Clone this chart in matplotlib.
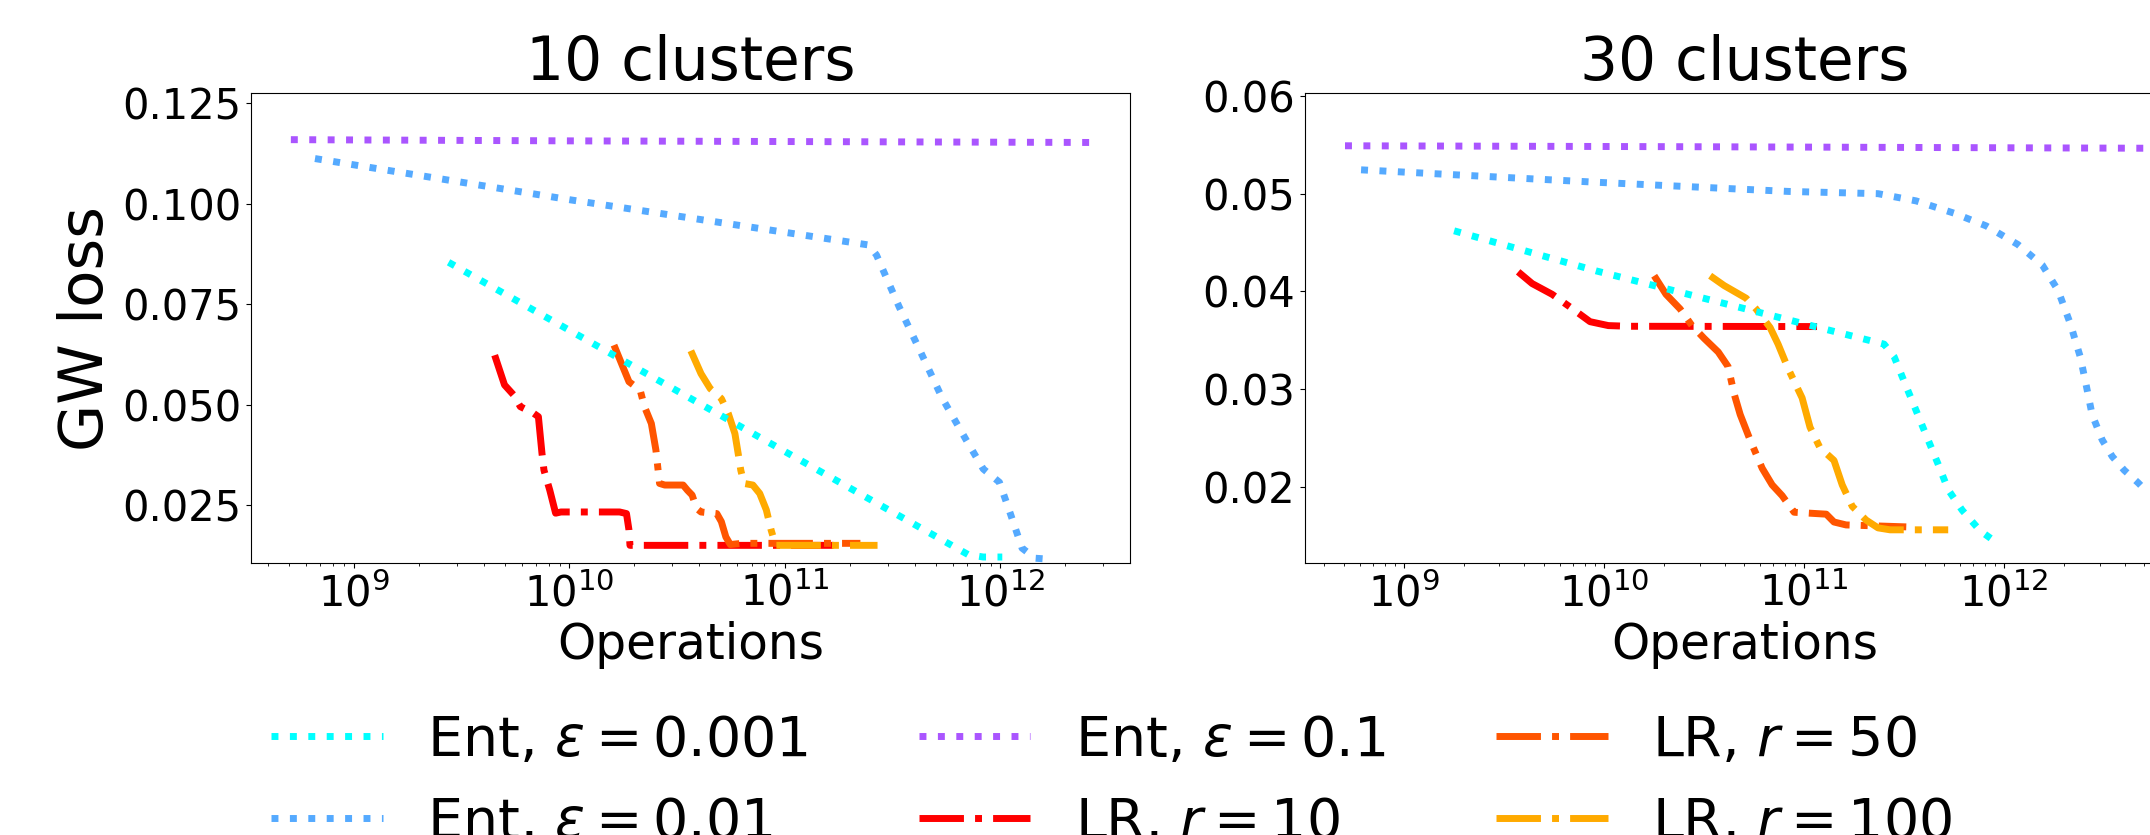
import numpy as np
import matplotlib
matplotlib.use('Agg')
import matplotlib.pyplot as plt

# ---- data: 10 clusters ----
ent001_ops_10 = [2.75e9, 7.08e11, 8.32e11, 1.02e12]
ent001_loss_10 = [0.0854, 0.0127, 0.0121, 0.0121]

ent01_ops_10 = [6.6e8, 1.02e10, 2.45e11, 2.66e11, 3.39e11, 4.27e11, 5.37e11, 6.92e11,
                8.32e11, 9.89e11, 1.11e12, 1.26e12, 1.45e12, 1.74e12]
ent01_loss_10 = [0.1112, 0.1009, 0.0897, 0.0872, 0.0743, 0.0630, 0.0516, 0.0413,
                 0.0340, 0.0307, 0.0230, 0.0143, 0.0118, 0.0115]

ent1_ops_10 = [5.1e8, 1.0e10, 2.6e12]
ent1_loss_10 = [0.1159, 0.1156, 0.1152]

lr10_ops_10 = [4.50e9, 5.00e9, 5.51e9, 5.92e9, 6.84e9, 7.18e9, 7.46e9, 7.62e9, 8.11e9,
               8.63e9, 9.14e9, 1.71e10, 1.84e10, 1.89e10, 1.91e10, 2.07e10, 1.68e11]
lr10_loss_10 = [0.0623, 0.0549, 0.0524, 0.0495, 0.0478, 0.0470, 0.0379, 0.0337, 0.0287,
                0.0230, 0.0233, 0.0233, 0.0229, 0.0188, 0.0150, 0.0150, 0.0150]

lr50_ops_10 = [1.61e10, 1.77e10, 1.89e10, 2.13e10, 2.23e10, 2.40e10, 2.52e10, 2.62e10,
               2.77e10, 3.37e10, 3.53e10, 3.71e10, 3.89e10, 4.08e10, 4.83e10, 5.07e10,
               5.32e10, 5.58e10, 6.31e10, 2.24e11]
lr50_loss_10 = [0.0648, 0.0594, 0.0557, 0.0536, 0.0495, 0.0453, 0.0387, 0.0304,
                0.0300, 0.0300, 0.0287, 0.0275, 0.0242, 0.0233, 0.0229, 0.0209,
                0.0171, 0.0152, 0.0155, 0.0155]

lr100_ops_10 = [3.66e10, 4.08e10, 4.50e10, 5.07e10, 5.46e10, 5.86e10, 6.07e10, 6.24e10,
                6.46e10, 7.10e10, 7.64e10, 8.20e10, 8.63e10, 9.06e10, 9.73e10, 2.69e11]
lr100_loss_10 = [0.0634, 0.0577, 0.0540, 0.0515, 0.0478, 0.0428, 0.0378, 0.0337,
                 0.0304, 0.0300, 0.0279, 0.0238, 0.0188, 0.0150, 0.0150, 0.0150]

# ---- data: 30 clusters ----
ent001_ops_30 = [1.78e9, 9.12e9, 2.51e11, 2.82e11, 3.16e11, 3.63e11, 4.07e11, 4.68e11,
                 5.25e11, 6.17e11, 7.59e11, 9.44e11]
ent001_loss_30 = [0.0462, 0.0421, 0.0346, 0.0333, 0.0308, 0.0278, 0.0253, 0.0223,
                  0.0197, 0.0176, 0.0155, 0.0141]

ent01_ops_30 = [6.10e8, 9.14e9, 8.32e10, 2.34e11, 3.63e11, 5.62e11, 8.13e11, 1.17e12,
                1.55e12, 1.86e12, 2.14e12, 2.40e12, 2.57e12, 2.75e12, 3.09e12, 3.47e12,
                3.98e12, 4.68e12, 5.0e12]
ent01_loss_30 = [0.05244, 0.05117, 0.05023, 0.0500, 0.04926, 0.0480, 0.0467, 0.0448,
                 0.0427, 0.0401, 0.0367, 0.0333, 0.0304, 0.0274, 0.0248, 0.0231,
                 0.0217, 0.0204, 0.0198]

ent1_ops_30 = [5.07e8, 3.16e10, 5.0e12]
ent1_loss_30 = [0.0549, 0.0548, 0.05465]

lr10_ops_30 = [3.72e9, 4.37e9, 5.50e9, 6.76e9, 8.51e9, 1.05e10, 1.32e10, 1.16e11]
lr10_loss_30 = [0.0420, 0.0408, 0.0397, 0.0384, 0.0369, 0.0365, 0.03643, 0.0364]

lr50_ops_30 = [1.78e10, 2.04e10, 2.40e10, 2.75e10, 3.16e10, 3.72e10, 4.17e10, 4.47e10,
               4.79e10, 5.37e10, 6.17e10, 6.92e10, 7.76e10, 8.91e10, 1.29e11, 1.41e11,
               1.62e11, 3.24e11]
lr50_loss_30 = [0.0416, 0.0397, 0.0382, 0.0365, 0.0352, 0.0338, 0.0323, 0.0295,
                0.0274, 0.0248, 0.0219, 0.0202, 0.0191, 0.0174, 0.0172, 0.0164,
                0.0161, 0.0159]

lr100_ops_30 = [3.39e10, 3.98e10, 5.13e10, 5.75e10, 6.76e10, 7.41e10, 8.32e10, 9.77e10,
                1.07e11, 1.20e11, 1.41e11, 1.55e11, 1.74e11, 2.04e11, 2.34e11, 2.69e11,
                5.25e11]
lr100_loss_30 = [0.0416, 0.0406, 0.0393, 0.0382, 0.0363, 0.0346, 0.0321, 0.0291,
                 0.0261, 0.0240, 0.0227, 0.0202, 0.0180, 0.0166, 0.0158, 0.0156,
                 0.0156]

titles = ['10 clusters', '30 clusters']
labels = [r'Ent, $\varepsilon = 0.001$', r'Ent, $\varepsilon = 0.01$', r'Ent, $\varepsilon = 0.1$',
          r'LR, $r = 10$', r'LR, $r = 50$', r'LR, $r = 100$']
colors = ['#00ffff', '#55aaff', '#aa55ff', '#ff0000', '#ff5500', '#ffaa00']

panels = [
    [(ent001_ops_10, ent001_loss_10), (ent01_ops_10, ent01_loss_10), (ent1_ops_10, ent1_loss_10),
     (lr10_ops_10, lr10_loss_10), (lr50_ops_10, lr50_loss_10), (lr100_ops_10, lr100_loss_10)],
    [(ent001_ops_30, ent001_loss_30), (ent01_ops_30, ent01_loss_30), (ent1_ops_30, ent1_loss_30),
     (lr10_ops_30, lr10_loss_30), (lr50_ops_30, lr50_loss_30), (lr100_ops_30, lr100_loss_30)],
]
ylims = [(0.0106, 0.1275), (0.0122, 0.0603)]
yticks = [[0.025, 0.05, 0.075, 0.1, 0.125], [0.02, 0.03, 0.04, 0.05, 0.06]]

fig = plt.figure(figsize=(21.5, 8.35), dpi=100)
ax1 = fig.add_axes([0.1167, 0.3257, 0.4088, 0.5629])
ax2 = fig.add_axes([0.6070, 0.3257, 0.4088, 0.5629])

handles = [None] * 6
for ax, series, title, ylim, yt in zip([ax1, ax2], panels, titles, ylims, yticks):
    # low rank curves first, entropic ones drawn over them
    for i in [3, 4, 5, 0, 1, 2]:
        ops, loss = series[i]
        ls = ':' if i < 3 else '-.'
        line, = ax.plot(ops, loss, ls, color=colors[i], lw=5, label=labels[i])
        handles[i] = line
    ax.set_xscale('log')
    ax.set_ylim(*ylim)
    ax.set_yticks(yt)
    ax.set_title(title, fontsize=43)
    ax.set_xlabel('Operations', fontsize=35)
    ax.tick_params(labelsize=30)

ax1.set_ylabel('GW loss', fontsize=44)

fig.legend(handles=handles, labels=labels, ncol=3, fontsize=40, frameon=False,
           loc='upper left', bbox_to_anchor=(0.103, 0.205))

fig.savefig('out.png', dpi=100)
